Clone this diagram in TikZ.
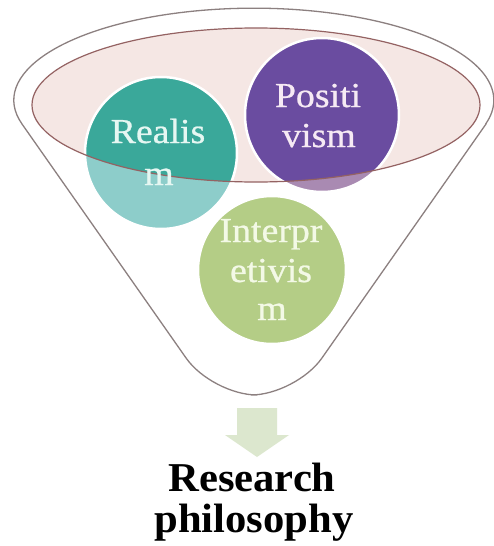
\documentclass[tikz,border=0pt]{standalone}
\usepackage{fontspec}
\setmainfont{Liberation Serif}
\newfontfamily\lblfont[FakeBold=0.7]{Liberation Serif}
\usepackage{graphicx}
\definecolor{tealD}{HTML}{3AA89A}
\definecolor{tealL}{HTML}{8DCDCA}
\definecolor{purD}{HTML}{6A4CA0}
\definecolor{purL}{HTML}{A98AB2}
\definecolor{grn}{HTML}{B4CD86}
\definecolor{pinkF}{HTML}{F5E7E4}
\definecolor{ellB}{HTML}{946262}
\definecolor{funB}{HTML}{8C8080}
\definecolor{arrF}{HTML}{DCE7CE}
\definecolor{txtT}{HTML}{E6F7F2}
\definecolor{txtP}{HTML}{F6EAF4}
\definecolor{txtG}{HTML}{F3F9E6}
\begin{document}
\begin{tikzpicture}[x=1pt,y=-1pt,
  lbl/.style={anchor=base,inner sep=0pt,font=\lblfont\fontsize{35}{41}\selectfont},
  ttl/.style={anchor=base,inner sep=0pt,text=black,font=\fontsize{41}{42}\selectfont\bfseries},
  rim/.style={draw=white,line width=2.5pt}]
\useasboundingbox (0,0) rectangle (493,546);
\fill[white] (0,0) rectangle (493,546);
% funnel outline
\draw[funB,line width=1.3pt] (22,124) arc[start angle=195,end angle=-15,x radius=240pt,y radius=92pt];
\draw[funB,line width=1.3pt,rounded corners=45pt] (22,124) -- (212,395) -- (296,395) -- (486,124);
% inner ellipse fill
\fill[pinkF] (256,105) ellipse [x radius=224pt,y radius=77pt];
% circles, light everywhere
\fill[tealL] (161,153) circle [radius=76pt];
\fill[purL] (322,115) circle [radius=77pt];
\fill[grn] (272,270) circle [radius=74pt];
% dark parts inside the ellipse
\begin{scope}
\clip (256,105) ellipse [x radius=224pt,y radius=77pt];
\fill[tealD] (161,153) circle [radius=76pt];
\fill[purD] (322,115) circle [radius=77pt];
\end{scope}
% white rims
\draw[rim] (161,153) circle [radius=76pt];
\draw[rim] (322,115) circle [radius=77pt];
\draw[rim] (272,270) circle [radius=74pt];
% ellipse border
\draw[ellB,line width=1.2pt] (256,105) ellipse [x radius=224pt,y radius=77pt];
% labels
\node[lbl,text=txtT] (rea1) at (158,143) {\scalebox{1.08}[1]{Realis}};
\node[lbl,text=txtT] (rea2) at (159,185) {\scalebox{1.08}[1]{m}};
\node[lbl,text=txtP] (pos1) at (318,107) {\scalebox{1.08}[1]{Positi}};
\node[lbl,text=txtP] (pos2) at (319,147) {\scalebox{1.08}[1]{vism}};
\node[lbl,text=txtG] (int1) at (271,242) {\scalebox{1.08}[1]{Interpr}};
\node[lbl,text=txtG] (int2) at (271,282) {\scalebox{1.08}[1]{etivis}};
\node[lbl,text=txtG] (int3) at (272,320) {\scalebox{1.08}[1]{m}};
% arrow
\fill[arrF] (237,408) -- (277,408) -- (277,435) -- (289,435) -- (257,457) -- (225,435) -- (237,435) -- cycle;
% title
\node[ttl] (res) at (252,491) {\scalebox{1.04}[1]{Research}};
\node[ttl] (phi) at (254,532) {\scalebox{1.04}[1]{philosophy}};
\end{tikzpicture}
\end{document}
